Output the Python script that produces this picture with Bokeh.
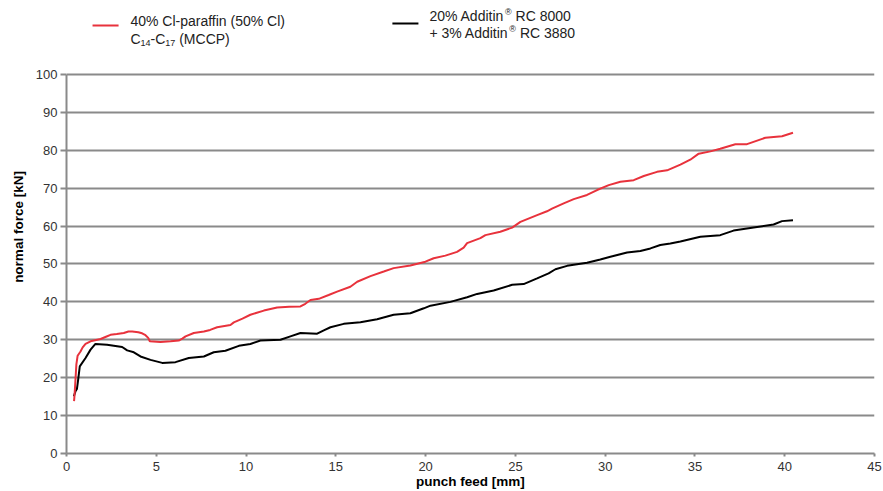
from bokeh.plotting import figure
from bokeh.models import Range1d
from bokeh.embed import file_html
from bokeh.resources import INLINE
from bokeh.core.properties import value

# ---------------- data ----------------
x_ticks = [0, 5, 10, 15, 20, 25, 30, 35, 40, 45]
y_ticks = [0, 10, 20, 30, 40, 50, 60, 70, 80, 90, 100]

red_label_1 = "40% Cl-paraffin (50% Cl)"
red_label_2 = ["C", "14", "-C", "17", "(MCCP)"]
black_label_1 = ["20% Additin", "®", "RC 8000"]
black_label_2 = ["+ 3% Additin", "®", "RC 3880"]
x_title = "punch feed [mm]"
y_title = "normal force [kN]"

red_x = [0.42, 0.45, 0.5, 0.55, 0.62, 0.78, 0.9, 1.06, 1.34, 1.9, 2.2, 2.45, 2.8, 3.19,
         3.45, 3.66, 4.0, 4.21, 4.4, 4.55, 4.64, 5.23, 5.8, 6.25, 6.45, 6.63, 7.09, 7.65,
         8.0, 8.39, 9.13, 9.32, 9.8, 10.24, 10.99, 11.73, 12.4, 13.03, 13.3, 13.59, 14.05,
         14.6, 15.07, 15.81, 16.19, 16.93, 17.67, 18.22, 19.15, 19.99, 20.45, 21.1, 21.75,
         22.12, 22.31, 23.05, 23.33, 24.16, 24.82, 25.28, 26.21, 26.76, 27.04, 27.69,
         28.25, 28.99, 29.55, 30.2, 30.85, 31.59, 32.15, 32.89, 33.45, 34.19, 34.74,
         35.21, 35.86, 36.41, 37.25, 37.9, 38.92, 39.85, 40.46]
red_y = [13.8, 15.5, 19.5, 23.5, 25.8, 26.9, 28.0, 28.9, 29.6, 30.2, 30.8, 31.3, 31.5, 31.8,
         32.2, 32.2, 32.0, 31.7, 31.2, 30.5, 29.6, 29.4, 29.6, 29.8, 30.3, 30.9, 31.8, 32.2,
         32.6, 33.3, 33.9, 34.6, 35.6, 36.6, 37.7, 38.5, 38.7, 38.8, 39.5, 40.5, 40.8,
         41.8, 42.7, 44.0, 45.3, 46.8, 48.0, 48.9, 49.6, 50.6, 51.5, 52.2, 53.2,
         54.3, 55.5, 56.8, 57.6, 58.5, 59.6, 61.1, 62.9, 63.9, 64.6, 66.0,
         67.1, 68.2, 69.5, 70.8, 71.7, 72.1, 73.2, 74.3, 74.7, 76.2, 77.5,
         79.1, 79.7, 80.4, 81.6, 81.6, 83.3, 83.7, 84.6]

black_x = [0.41, 0.5, 0.58, 0.65, 0.74, 1.06, 1.34, 1.61, 2.26, 3.1, 3.38, 3.75, 4.12, 4.68,
           5.33, 6.07, 6.81, 7.65, 8.2, 8.85, 9.6, 10.24, 10.8, 11.92, 12.47, 13.03, 13.96,
           14.33, 14.7, 15.44, 16.37, 17.3, 18.22, 19.15, 19.9, 20.27, 21.38, 22.31, 22.87,
           23.79, 24.82, 25.46, 26.21, 26.85, 27.23, 27.88, 28.99, 29.73, 30.29, 31.22,
           31.96, 32.52, 33.07, 33.63, 34.19, 35.3, 36.41, 37.15, 38.27, 39.38, 39.85, 40.46]
black_y = [15.1, 16.4, 17.0, 19.5, 23.0, 25.2, 27.4, 28.9, 28.7, 28.1, 27.2, 26.7, 25.6, 24.7,
           23.9, 24.1, 25.2, 25.6, 26.7, 27.1, 28.4, 28.9, 29.8, 30.0, 30.9, 31.8, 31.6,
           32.5, 33.3, 34.2, 34.6, 35.4, 36.6, 37.0, 38.3, 39.0, 40.0, 41.2, 42.1,
           43.0, 44.5, 44.7, 46.2, 47.5, 48.6, 49.5, 50.3, 51.2, 51.9, 53.0,
           53.4, 54.1, 55.0, 55.4, 55.9, 57.2, 57.6, 58.8, 59.6, 60.4, 61.3, 61.5]

RED = "#e8323c"
GRID = "#8a8a8a"
FONT = "Liberation Sans"

X_MAX = 45
Y_TOP = 119.5          # extra room above 100 holds the legend (axis bounded at 100)

p = figure(width=883, height=491, x_range=Range1d(0, X_MAX), y_range=Range1d(0, Y_TOP),
           output_backend="svg", toolbar_location=None,
           min_border_left=66, min_border_right=9, min_border_top=0, min_border_bottom=36)
p.outline_line_color = None
p.xgrid.visible = False
p.ygrid.grid_line_color = GRID
p.ygrid.grid_line_width = 2
p.xaxis.ticker = x_ticks
p.yaxis.ticker = y_ticks
p.yaxis.bounds = (0, 100)

for ax in (p.xaxis, p.yaxis):
    ax.axis_line_color = GRID
    ax.axis_line_width = 2
    ax.major_tick_line_color = GRID
    ax.major_tick_line_width = 2
    ax.minor_tick_line_color = None
    ax.major_tick_in = 0
    ax.major_label_text_font = FONT
    ax.major_label_text_font_size = "13px"
    ax.major_label_text_color = "#333333"
    ax.axis_label_text_font = FONT
    ax.axis_label_text_font_size = "13.5px"
    ax.axis_label_text_font_style = "bold"
    ax.axis_label_text_color = "black"

p.xaxis.major_tick_out = 3
p.xaxis.major_label_standoff = 5
p.xaxis.axis_label_standoff = 0
p.yaxis.major_tick_out = 6
p.yaxis.major_label_standoff = 3
p.yaxis.axis_label_standoff = 7
p.xaxis.axis_label = x_title
p.yaxis.axis_label = y_title

p.line(black_x, black_y, color="black", line_width=2)
p.line(red_x, red_y, color=RED, line_width=2)

# ---------------- legend (drawn in the free band above 100) ----------------
PX_X = 808 / X_MAX      # px per x unit (approx)
PX_Y = 3.794            # px per y unit (approx)
fs, fs_sm = 14.0, 9.0
def w(s, size):
    widths = {'C': .722, '-': .333, '(': .333, ')': .333, 'M': .833, 'P': .667, 'R': .722,
              ' ': .278, '%': .889, '+': .584, 'A': .667, 'd': .556, 'i': .222, 't': .278,
              'n': .556, '®': .737}
    return sum(widths.get(ch, .556) for ch in s) * size / PX_X

def ylev(dpx):  # offset in px below the legend reference line -> data units
    return -dpx / PX_Y

RY = 114.2   # red legend first text line
BY = 115.3   # black legend first text line
RX = 3.56
BX = 20.21

p.line([1.45, 2.90], [RY + ylev(5), RY + ylev(5)], color=RED, line_width=2)
p.line([18.15, 19.60], [BY + ylev(7), BY + ylev(7)], color="black", line_width=2)

tx, ty, tt, tsz = [], [], [], []
tx.append(RX); ty.append(RY); tt.append(red_label_1); tsz.append(f"{fs}px")
cx = RX
sizes = [fs, fs_sm, fs, fs_sm, fs]
dys = [18, 22, 18, 22, 18]
for i, (txt, sz) in enumerate(zip(red_label_2, sizes)):
    if i == 4:
        cx += w(" ", fs)
    tx.append(cx); ty.append(RY + ylev(dys[i])); tt.append(txt); tsz.append(f"{sz}px")
    cx += w(txt, sz)

for dline, parts in ((0, black_label_1), (17, black_label_2)):
    ly = BY + ylev(dline)
    cx = BX
    tx.append(cx); ty.append(ly); tt.append(parts[0]); tsz.append(f"{fs}px")
    cx += w(parts[0], fs) + 1.0 / PX_X
    tx.append(cx); ty.append(ly + 4 / PX_Y); tt.append(parts[1]); tsz.append(f"{fs_sm}px")
    cx += w(parts[1], fs_sm) + w(" ", fs)
    tx.append(cx); ty.append(ly); tt.append(parts[2]); tsz.append(f"{fs}px")

p.text(x=tx, y=ty, text=tt, text_font=value(FONT), text_font_size=tsz,
       text_baseline="middle", text_align="left", text_color="#222222")

open("out.html", "w").write(file_html(p, INLINE))
